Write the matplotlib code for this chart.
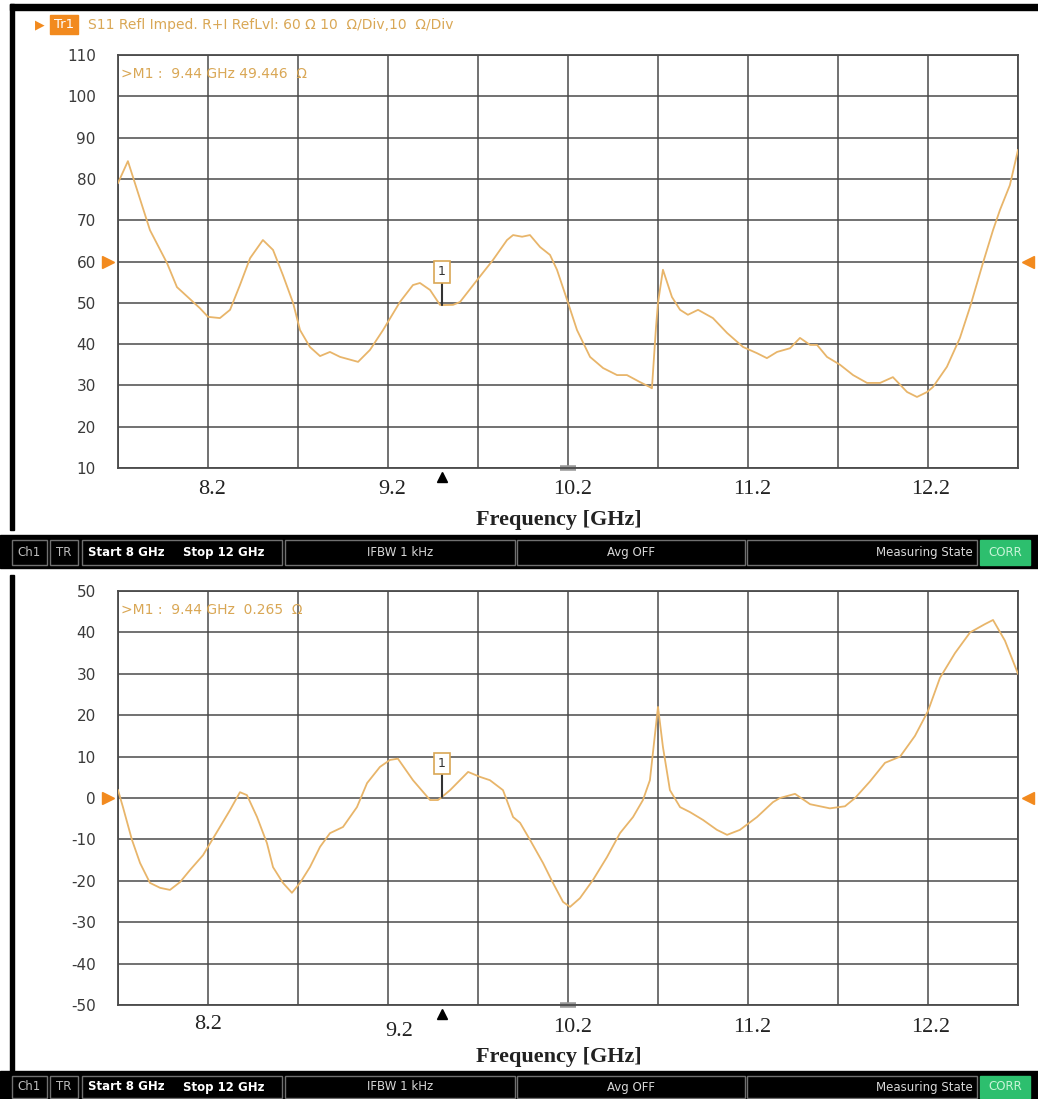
import matplotlib
matplotlib.use("Agg")
import matplotlib.pyplot as plt
from matplotlib.patches import Rectangle
import matplotlib.transforms as mtransforms
import numpy as np

plt.rcParams['axes.unicode_minus'] = False

# S11 impedance, real part (ohm) vs frequency (GHz)
freq_r = [8.000, 8.044, 8.142, 8.218, 8.262, 8.364, 8.400, 8.453, 8.498, 8.542,
          8.587, 8.644, 8.689, 8.733, 8.778, 8.809, 8.853, 8.898, 8.942, 8.987,
          9.067, 9.120, 9.178, 9.253, 9.311, 9.342, 9.387, 9.431, 9.440, 9.489,
          9.520, 9.596, 9.667, 9.729, 9.756, 9.796, 9.831, 9.876, 9.920, 9.951,
          9.996, 10.040, 10.098, 10.156, 10.218, 10.262, 10.320, 10.364, 10.373, 10.391,
          10.400, 10.422, 10.462, 10.498, 10.533, 10.578, 10.644, 10.707, 10.778, 10.840,
          10.884, 10.929, 10.987, 11.031, 11.076, 11.107, 11.151, 11.209, 11.267, 11.329,
          11.387, 11.444, 11.507, 11.551, 11.596, 11.622, 11.684, 11.742, 11.787, 11.844,
          11.889, 11.920, 11.964, 12.000]
real_ohm = [79.0, 84.3, 67.6, 59.6, 53.8, 48.7, 46.6, 46.3, 48.3, 54.3,
            60.8, 65.2, 62.8, 56.7, 50.0, 43.4, 39.3, 37.1, 38.1, 36.9,
            35.7, 38.6, 43.4, 50.2, 54.3, 54.8, 53.1, 49.5, 49.446, 49.5,
            50.2, 55.5, 60.4, 65.2, 66.4, 66.0, 66.4, 63.5, 61.6, 58.0,
            50.7, 43.4, 36.9, 34.2, 32.5, 32.5, 30.8, 29.6, 29.3, 44.0,
            50.0, 58.0, 51.4, 48.3, 47.1, 48.3, 46.3, 42.7, 39.3, 37.8,
            36.6, 38.1, 39.0, 41.5, 39.8, 39.8, 36.9, 35.0, 32.5, 30.6,
            30.6, 32.0, 28.4, 27.2, 28.4, 29.6, 34.5, 41.5, 49.0, 59.6,
            67.6, 72.5, 78.5, 87.0]

# S11 impedance, imaginary part (ohm)
freq_x = [8.000, 8.022, 8.062, 8.098, 8.142, 8.187, 8.231, 8.276, 8.320, 8.378,
          8.400, 8.453, 8.498, 8.542, 8.573, 8.618, 8.662, 8.689, 8.733, 8.773,
          8.809, 8.853, 8.898, 8.942, 9.000, 9.062, 9.107, 9.164, 9.209, 9.244,
          9.311, 9.387, 9.422, 9.440, 9.476, 9.556, 9.609, 9.653, 9.711, 9.756,
          9.787, 9.831, 9.889, 9.933, 9.978, 10.009, 10.053, 10.111, 10.173, 10.231,
          10.289, 10.333, 10.364, 10.400, 10.422, 10.453, 10.498, 10.542, 10.600, 10.662,
          10.707, 10.764, 10.840, 10.911, 10.942, 11.009, 11.076, 11.164, 11.231, 11.276,
          11.342, 11.409, 11.476, 11.542, 11.600, 11.653, 11.720, 11.787, 11.853, 11.889,
          11.942, 12.000]
imag_ohm = [1.9, -2.2, -10.1, -15.7, -20.5, -21.7, -22.2, -20.3, -17.4, -13.8,
            -11.8, -7.0, -2.9, 1.4, 0.7, -4.6, -10.9, -16.7, -20.5, -22.9,
            -20.5, -16.7, -11.8, -8.5, -7.0, -2.2, 3.6, 7.5, 9.2, 9.5,
            4.3, -0.5, -0.5, 0.265, 1.9, 6.3, 5.1, 4.3, 1.9, -4.6,
            -6.0, -10.1, -15.7, -20.5, -25.1, -26.3, -24.2, -19.8, -14.3, -8.5,
            -4.6, -0.5, 4.3, 22.0, 12.3, 1.9, -2.2, -3.4, -5.3, -7.7,
            -8.9, -7.7, -4.6, -1.0, 0.0, 1.0, -1.5, -2.5, -2.0, 0.0,
            4.0, 8.5, 10.0, 15.0, 21.0, 29.0, 35.0, 40.0, 42.0, 43.0,
            38.0, 30.0]

marker_freq = 9.44
marker_real = 49.446
marker_imag = 0.265
ref_real = 60
ref_imag = 0

freq_tick_labels = ['8.2', '9.2', '10.2', '11.2', '12.2']

W, H = 1038, 1099
TRACE = '#e8b56a'
READOUT = '#d9a755'
GRID = '#4a4a4a'
ORANGE = '#f28a1e'
SERIF = ['Liberation Serif', 'DejaVu Serif']
SANS = ['DejaVu Sans']

fig = plt.figure(figsize=(W / 100, H / 100), dpi=100)

# background layer in pixel units for the analyzer frame and status bars
bg = fig.add_axes([0, 0, 1, 1], zorder=-1)
bg.set_xlim(0, W)
bg.set_ylim(H, 0)
bg.axis('off')
bg.add_patch(Rectangle((10, 4), W - 10, 6, color='black'))
bg.add_patch(Rectangle((10, 4), 4, 526, color='black'))
bg.add_patch(Rectangle((10, 575), 4, 496, color='black'))


def status_bar(y0, h):
    bg.add_patch(Rectangle((0, y0), W, h, color='black'))
    boxes = [(12, 47), (50, 78), (82, 282), (285, 515), (517, 745), (747, 977)]
    for x0, x1 in boxes:
        bg.add_patch(Rectangle((x0, y0 + 5), x1 - x0, h - 8, fc='black', ec='#707070', lw=1))
    bg.add_patch(Rectangle((980, y0 + 5), 50, h - 8, color='#2dbf6e'))
    yc = y0 + h / 2 + 1
    kw = dict(va='center', fontsize=8.5, family=SANS)
    bg.text(29.5, yc, 'Ch1', ha='center', color='#bdbdbd', **kw)
    bg.text(64, yc, 'TR', ha='center', color='#bdbdbd', **kw)
    bg.text(88, yc, 'Start 8 GHz', ha='left', color='white', fontweight='bold', **kw)
    bg.text(183, yc, 'Stop 12 GHz', ha='left', color='white', fontweight='bold', **kw)
    bg.text(400, yc, 'IFBW 1 kHz', ha='center', color='#d8d8d8', **kw)
    bg.text(631, yc, 'Avg OFF', ha='center', color='#d8d8d8', **kw)
    bg.text(973, yc, 'Measuring State', ha='right', color='#d8d8d8', **kw)
    bg.text(1005, yc, 'CORR', ha='center', color='#c8f5d8', **kw)


status_bar(535, 33)
status_bar(1071, 30)

# trace header
bg.text(35, 25, '\u25B6', color=ORANGE, fontsize=9, va='center', ha='left', family=SANS)
bg.add_patch(Rectangle((50, 15), 28, 19, color=ORANGE))
bg.text(64, 24.5, 'Tr1', color='white', fontsize=9.5, va='center', ha='center', family=SANS)
bg.text(88, 25, 'S11 Refl Imped. R+I RefLvl: 60 \u03A9 10  \u03A9/Div,10  \u03A9/Div',
        color=READOUT, fontsize=10, va='center', ha='left', family=SANS)


def px_axes(x0, y0, x1, y1):
    return fig.add_axes([x0 / W, 1 - y1 / H, (x1 - x0) / W, (y1 - y0) / H])


def draw_panel(ax, f, v, ylim, ref, mval, readout, label_pos, label_dy):
    ax.plot(f, v, color=TRACE, lw=1.3, zorder=3, solid_joinstyle='round')
    ax.set_xlim(8, 12)
    ax.set_ylim(*ylim)
    ax.set_xticks(np.linspace(8, 12, 11))
    ax.set_yticks(np.arange(ylim[0], ylim[1] + 1, 10))
    ax.grid(True, color=GRID, lw=1.1, zorder=1)
    ax.set_axisbelow(True)
    for s in ax.spines.values():
        s.set_color(GRID)
        s.set_linewidth(1.3)
    ax.tick_params(axis='both', length=0)
    ax.tick_params(axis='y', pad=16, labelsize=11, labelcolor='#3a3a3a')
    ax.set_xticklabels([])
    for lab in ax.get_yticklabels():
        lab.set_family(SANS)

    # marker readout and marker flag
    ax.text(0.003, 0.955, readout, transform=ax.transAxes, color=READOUT,
            fontsize=10, va='center', ha='left', family=SANS, zorder=2)
    ax.annotate('1', xy=(marker_freq, mval), xytext=(0, 24), textcoords='offset points',
                ha='center', va='center', fontsize=9, color='#333333', family=SANS,
                bbox=dict(boxstyle='square,pad=0.35', fc='white', ec='#d9a755', lw=1.2),
                arrowprops=dict(arrowstyle='-', color='#333333', lw=1.5, shrinkA=0, shrinkB=0),
                zorder=4)

    trans = mtransforms.blended_transform_factory(ax.transData, ax.transAxes)
    ax.plot([marker_freq], [-0.022], transform=trans, marker='^', ms=7, color='black',
            clip_on=False, ls='none')
    ax.plot([10.0], [0.0], transform=trans, marker='_', ms=11, mew=4, color='#9a9a9a',
            clip_on=False, ls='none')

    # reference level arrows on both sides
    ytr = mtransforms.blended_transform_factory(ax.transAxes, ax.transData)
    ax.plot([-0.011], [ref], transform=ytr, marker='>', ms=8, color=ORANGE, clip_on=False, ls='none')
    ax.plot([1.011], [ref], transform=ytr, marker='<', ms=8, color=ORANGE, clip_on=False, ls='none')

    # frequency labels
    for lab, xp, dy in zip(freq_tick_labels, label_pos, label_dy):
        ax.text(xp, -dy, lab, transform=trans, ha='center', va='center',
                fontsize=16, family=SERIF, color='#222222')
    ax.text(0.49, -0.125, 'Frequency [GHz]', transform=ax.transAxes, ha='center', va='center',
            fontsize=16, fontweight='bold', family=SERIF, color='#222222')


ax1 = px_axes(118, 55, 1018, 468)
draw_panel(ax1, freq_r, real_ohm, (10, 110), ref_real, marker_real,
           '>M1 :  9.44 GHz 49.446  \u03A9',
           [8.42, 9.22, 10.02, 10.82, 11.61], [0.053, 0.053, 0.053, 0.053, 0.053])

ax2 = px_axes(118, 591, 1018, 1005)
draw_panel(ax2, freq_x, imag_ohm, (-50, 50), ref_imag, marker_imag,
           '>M1 :  9.44 GHz  0.265  \u03A9',
           [8.40, 9.25, 10.02, 10.82, 11.61], [0.048, 0.065, 0.055, 0.055, 0.055])

fig.savefig('out.png', dpi=100)
